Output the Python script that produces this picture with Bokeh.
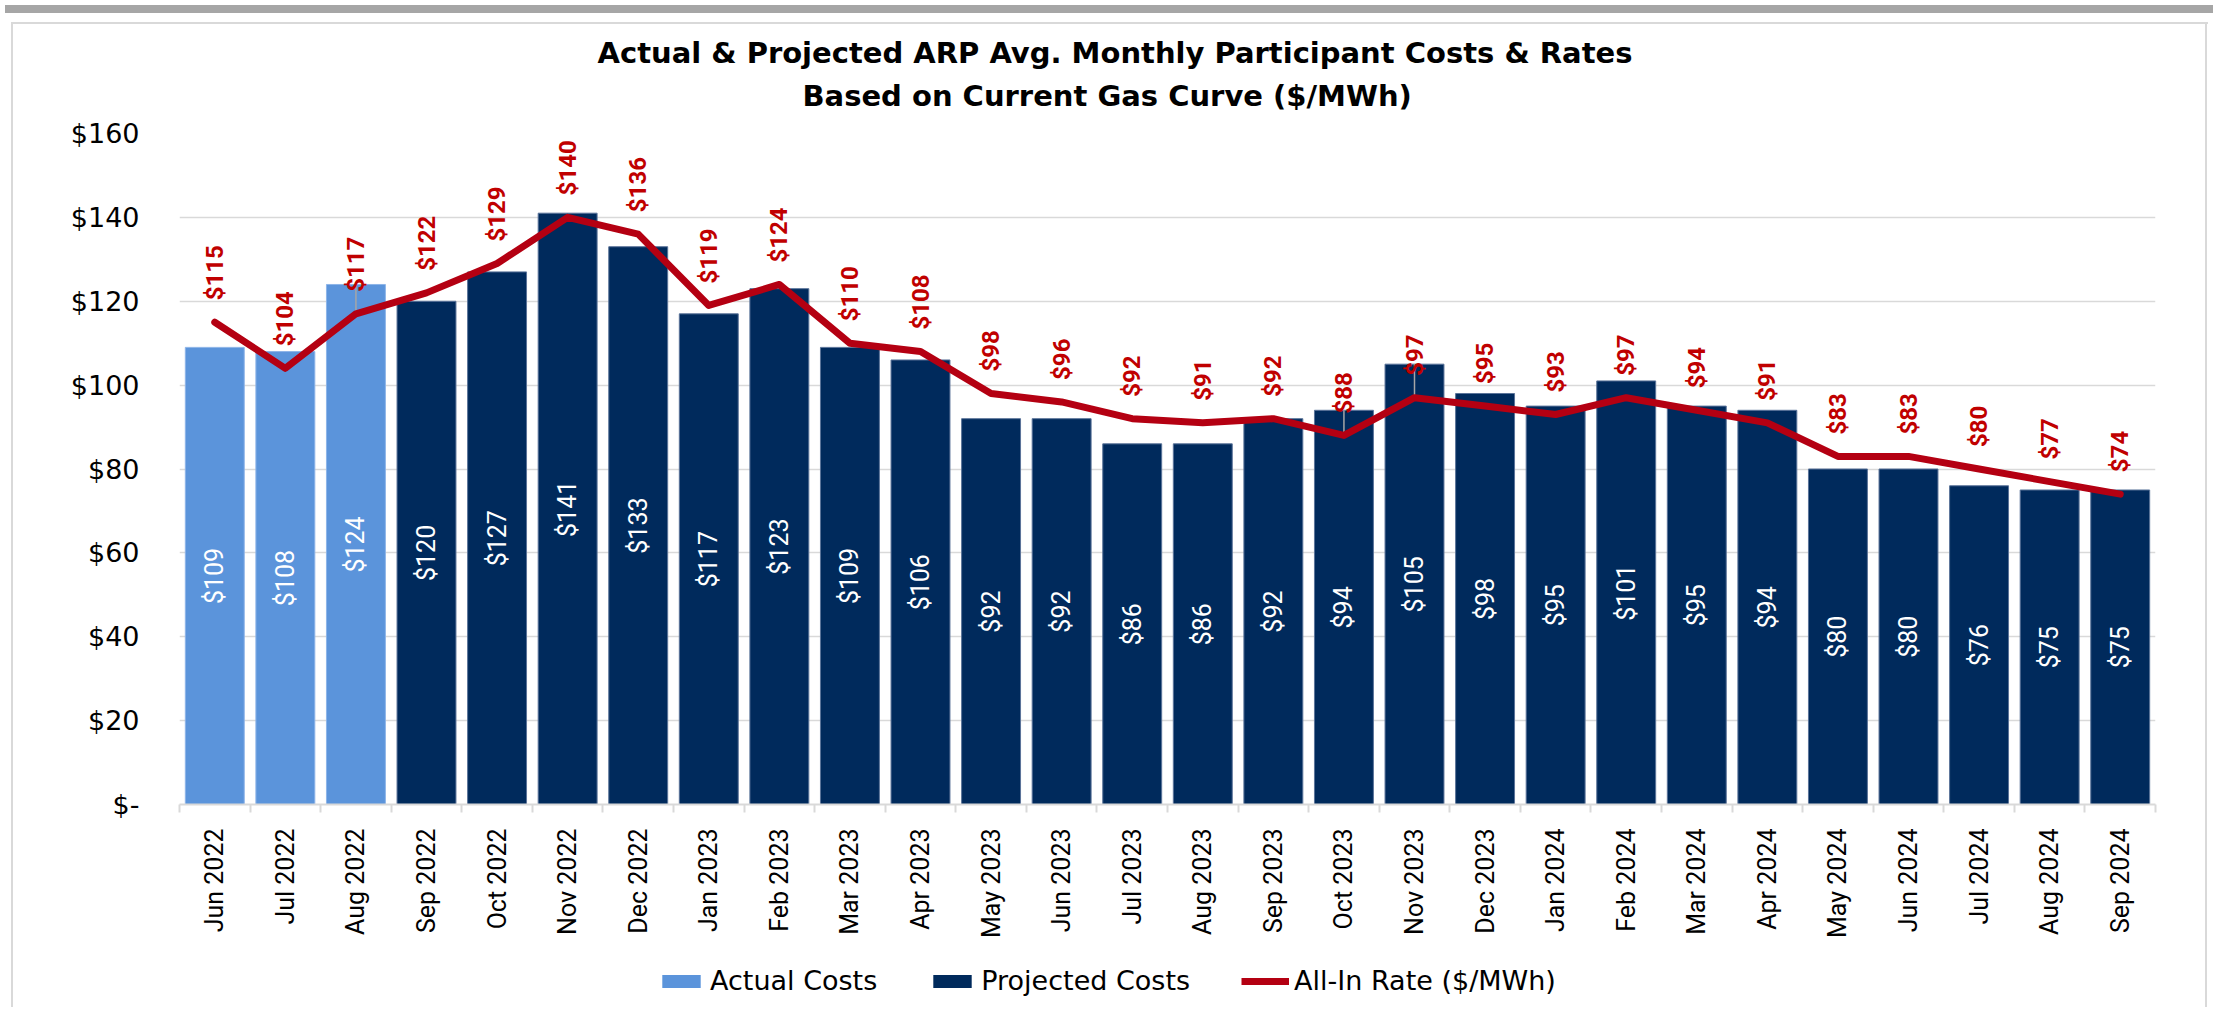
import math
import numpy as np
from bokeh.plotting import figure
from bokeh.models import (ColumnDataSource, Range1d, LinearAxis, FixedTicker, CustomJSTickFormatter,
                          Legend, LegendItem, Title, Grid, Div)
from bokeh.layouts import column
from bokeh.core.properties import value
from bokeh.embed import file_html
from bokeh.resources import INLINE

# ---------------- data ----------------
months = ["Jun 2022", "Jul 2022", "Aug 2022", "Sep 2022", "Oct 2022", "Nov 2022", "Dec 2022",
          "Jan 2023", "Feb 2023", "Mar 2023", "Apr 2023", "May 2023", "Jun 2023", "Jul 2023",
          "Aug 2023", "Sep 2023", "Oct 2023", "Nov 2023", "Dec 2023", "Jan 2024", "Feb 2024",
          "Mar 2024", "Apr 2024", "May 2024", "Jun 2024", "Jul 2024", "Aug 2024", "Sep 2024"]
cost_type = ["Actual"] * 3 + ["Projected"] * 25
costs = [109, 108, 124, 120, 127, 141, 133, 117, 123, 109, 106, 92, 92, 86, 86, 92, 94, 105,
         98, 95, 101, 95, 94, 80, 80, 76, 75, 75]
rates = [115, 104, 117, 122, 129, 140, 136, 119, 124, 110, 108, 98, 96, 92, 91, 92, 88, 97,
         95, 93, 97, 94, 91, 83, 83, 80, 77, 74]
y_ticks = [0, 20, 40, 60, 80, 100, 120, 140, 160]
title_lines = ["Actual & Projected ARP Avg. Monthly Participant Costs & Rates",
               "Based on Current Gas Curve ($/MWh)"]
series_names = ["Actual Costs", "Projected Costs", "All-In Rate ($/MWh)"]

# ---------------- styles ----------------
C_ACT = "#5B94DB"
C_PROJ = "#002A5C"
C_ACT_EDGE = "#8DB4E8"
C_PROJ_EDGE = "#5A7399"
C_LINE = "#B40012"
C_LBL = "#C00000"
C_GRID = "#D9D9D9"
F_WIDE = "DejaVu Sans"
F_NARROW = "Roboto"

n = len(months)
xc = np.arange(n) + 0.5
costs_a = np.array(costs, dtype=float)
rates_a = np.array(rates, dtype=float)
is_act = np.array([t == "Actual" for t in cost_type])

def src(mask):
    return ColumnDataSource(dict(x=xc[mask], cost=costs_a[mask], mid=costs_a[mask] / 2,
                                 lbl=["$%d" % v for v in costs_a[mask]]))

src_act = src(is_act)
src_proj = src(~is_act)
src_rate = ColumnDataSource(dict(x=xc, rate=rates_a, lbl=["$%d" % v for v in rates_a]))
lead = (costs_a - rates_a) >= 5
src_lead = ColumnDataSource(dict(x=xc[lead], y0=costs_a[lead], y1=rates_a[lead]))

W = 2208
TOPBAR = 8
H_LEG = 60
H1 = 997 - TOPBAR - H_LEG
BL, BR, BT = 179, 53, 115
BB = H1 - 786

def box_css(with_top, top_px):
    n_img = 3 if with_top else 2
    pos = ["11px %dpx" % top_px, "2205px %dpx" % top_px] + (["11px %dpx" % top_px] if with_top else [])
    size = ["2px 100%", "2px 100%"] + (["100% 2px"] if with_top else [])
    return {"background-image": ", ".join(["linear-gradient(#D9D9D9, #D9D9D9)"] * n_img),
            "background-position": ", ".join(pos),
            "background-size": ", ".join(size),
            "background-repeat": "no-repeat"}

p = figure(width=W, height=H1, x_range=Range1d(0, n), y_range=Range1d(y_ticks[0], y_ticks[-1]),
           output_backend="svg", toolbar_location=None, x_axis_type=None, y_axis_type=None,
           min_border_left=BL, min_border_right=BR, min_border_top=BT, min_border_bottom=BB)
p.outline_line_color = None
p.background_fill_color = "white"
p.border_fill_color = None
p.styles = box_css(True, 4)

# axes
yaxis = LinearAxis(ticker=FixedTicker(ticks=y_ticks),
                   formatter=CustomJSTickFormatter(code="return tick == 0 ? '$-' : '$' + tick;"))
yaxis.axis_line_color = None
yaxis.major_tick_line_color = None
yaxis.minor_tick_line_color = None
yaxis.major_tick_out = 0
yaxis.major_tick_in = 0
yaxis.major_label_standoff = 40
yaxis.major_label_text_font = F_WIDE
yaxis.major_label_text_font_size = "27px"
yaxis.major_label_text_color = "#000000"
p.add_layout(yaxis, "left")

xaxis = LinearAxis(ticker=FixedTicker(ticks=list(xc), minor_ticks=list(np.arange(n + 1))),
                   formatter=CustomJSTickFormatter(args=dict(labels=months),
                                                   code="return labels[Math.floor(tick)] || '';"))
xaxis.axis_line_color = C_GRID
xaxis.axis_line_width = 2
xaxis.major_tick_line_color = None
xaxis.major_tick_out = 0
xaxis.major_tick_in = 0
xaxis.minor_tick_line_color = C_GRID
xaxis.minor_tick_line_width = 2
xaxis.minor_tick_out = 8
xaxis.minor_tick_in = 0
xaxis.major_label_orientation = math.pi / 2
xaxis.major_label_standoff = 16
xaxis.major_label_text_font = F_NARROW
xaxis.major_label_text_font_size = "25px"
xaxis.major_label_text_color = "#000000"
p.add_layout(xaxis, "below")

p.add_layout(Grid(dimension=1, ticker=yaxis.ticker, grid_line_color=C_GRID, grid_line_width=1.5))

# bars
bw = 0.835
r_act = p.vbar(x="x", top="cost", width=bw, source=src_act, fill_color=C_ACT,
               line_color=C_ACT_EDGE, line_width=1)
r_proj = p.vbar(x="x", top="cost", width=bw, source=src_proj, fill_color=C_PROJ,
                line_color=C_PROJ_EDGE, line_width=1)

# leader lines
p.segment(x0="x", y0="y0", x1="x", y1="y1", source=src_lead, line_color="#A6A6A6", line_width=1.5)

# line
r_line = p.line(x="x", y="rate", source=src_rate, line_color=C_LINE, line_width=7,
                line_cap="round", line_join="round")

# bar labels
for s in (src_act, src_proj):
    p.text(x="x", y="mid", text="lbl", source=s, angle=math.pi / 2, text_align="center",
           text_baseline="middle", text_color="white", text_font=value(F_NARROW),
           text_font_size="25px")

# rate labels
p.text(x="x", y="rate", text="lbl", source=src_rate, angle=math.pi / 2, text_align="left",
       text_baseline="middle", y_offset=-22, text_color=C_LBL, text_font=value(F_NARROW),
       text_font_style="bold", text_font_size="24px")

# title (two lines, centred on the chart box)
t2 = Title(text=title_lines[1], align="left", offset=623, standoff=41, text_font=F_WIDE,
           text_font_style="bold", text_font_size="29px", text_color="#000000")
t1 = Title(text=title_lines[0], align="left", offset=418, standoff=-27, text_font=F_WIDE,
           text_font_style="bold", text_font_size="29px", text_color="#000000")
p.add_layout(t2, "above")
p.add_layout(t1, "above")

# legend strip: swatch renderers have zero-size geometry, only their styles show in the legend
pl = figure(width=W, height=H_LEG, x_range=Range1d(0, 1), y_range=Range1d(0, 1),
            output_backend="svg", toolbar_location=None, x_axis_type=None, y_axis_type=None,
            min_border=0)
pl.outline_line_color = None
pl.background_fill_color = None
pl.border_fill_color = None
pl.styles = box_css(False, 0)
g_act = pl.vbar(x=[0.5], top=[0], bottom=[0], width=0, fill_color=C_ACT, line_color=None)
g_proj = pl.vbar(x=[0.5], top=[0], bottom=[0], width=0, fill_color=C_PROJ, line_color=None)
g_line = pl.line(x=[0.5, 0.5], y=[0, 0], line_color=C_LINE, line_width=7, line_cap="butt")
legend = Legend(items=[LegendItem(label=series_names[0], renderers=[g_act]),
                       LegendItem(label=series_names[1], renderers=[g_proj]),
                       LegendItem(label=series_names[2], renderers=[g_line])],
                location=(657 - BL, 11), orientation="horizontal")
legend.glyph_width = 48
legend.glyph_height = 16
legend.label_standoff = 5
legend.spacing = 51
legend.padding = 0
legend.margin = 0
legend.border_line_color = None
legend.background_fill_alpha = 0
legend.label_text_font = F_WIDE
legend.label_text_font_size = "27px"
legend.label_text_color = "#000000"
pl.add_layout(legend)

topbar = Div(width=W, height=TOPBAR, styles={"background-color": "#A6A6A6"})
layout = column(topbar, p, pl, spacing=0)

open("out.html", "w").write(file_html(layout, INLINE))
